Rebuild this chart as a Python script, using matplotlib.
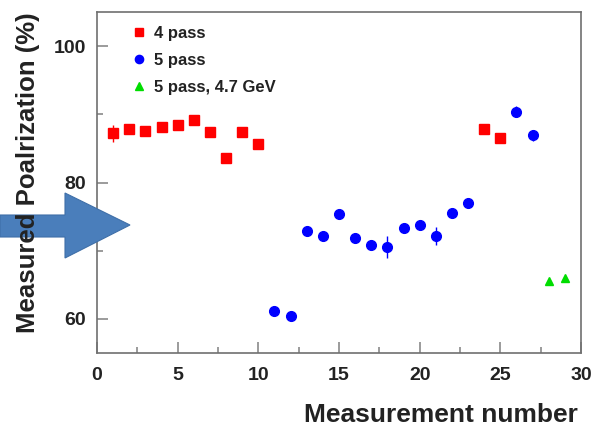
import matplotlib
matplotlib.use("Agg")
import matplotlib.pyplot as plt
from matplotlib.patches import Polygon
import numpy as np

plt.rcParams['font.family'] = ['Liberation Sans', 'DejaVu Sans']

# Data
x4 = [1, 2, 3, 4, 5, 6, 7, 8, 9, 10, 24, 25]
y4 = [87.2, 87.9, 87.6, 88.2, 88.5, 89.1, 87.4, 83.6, 87.4, 85.7, 87.8, 86.5]
e4 = [1.2, 0.6, 0.5, 0.5, 0.5, 0.5, 0.5, 0.5, 0.5, 0.5, 0.5, 0.5]

x5 = [11, 12, 13, 14, 15, 16, 17, 18, 19, 20, 21, 22, 23, 26, 27]
y5 = [61.1, 60.4, 72.9, 72.2, 75.4, 71.8, 70.8, 70.6, 73.4, 73.8, 72.2, 75.5, 77.0, 90.4, 86.9]
e5 = [0.5, 0.5, 0.5, 0.5, 0.5, 0.5, 0.5, 1.6, 0.5, 0.5, 1.3, 0.5, 0.5, 0.8, 0.8]

x47 = [28, 29]
y47 = [65.6, 66.0]
e47 = [0.3, 0.3]

labels = ["4 pass", "5 pass", "5 pass, 4.7 GeV"]

W, H = 593, 433
fig = plt.figure(figsize=(W / 100, H / 100), dpi=100)
ax = fig.add_axes([97 / W, 1 - 353 / H, (581 - 97) / W, (353 - 12) / H])

c1 = ax.errorbar(x4, y4, yerr=e4, fmt='s', color='#ff0000', ms=7, elinewidth=1, capsize=0)
c2 = ax.errorbar(x5, y5, yerr=e5, fmt='o', color='#0000ff', ms=7, elinewidth=1, capsize=0)
c3 = ax.errorbar(x47, y47, yerr=e47, fmt='^', color='#00dd00', ms=6, elinewidth=1, capsize=0)

ax.set_xlim(0, 30)
ax.set_ylim(55, 105)
ax.set_xticks([0, 5, 10, 15, 20, 25, 30])
ax.set_xticks(np.arange(0, 30.1, 2.5), minor=True)
ax.set_yticks([60, 80, 100])
ax.set_yticks([60, 70, 80, 90, 100], minor=True)

for s in ax.spines.values():
    s.set_color('#707070')
    s.set_linewidth(1.2)
ax.tick_params(which='both', direction='in', color='#808080', width=1.1)
ax.tick_params(which='major', length=8)
ax.tick_params(which='minor', length=4)
ax.tick_params(axis='x', which='major', labelsize=14, pad=10, labelcolor='#222222')
ax.tick_params(axis='y', which='major', labelsize=14, pad=8, labelcolor='#222222')
for t in ax.get_xticklabels() + ax.get_yticklabels():
    t.set_fontweight('bold')

leg = ax.legend([c1[0], c2[0], c3[0]], labels, loc='upper left',
                bbox_to_anchor=(0.07, 0.96), frameon=False,
                fontsize=12, handlelength=1.0, handletextpad=0.4, labelspacing=0.72,
                borderpad=0, borderaxespad=0, markerscale=0.85)
for t in leg.get_texts():
    t.set_fontweight('bold')
    t.set_color('#222222')

fig.text(578 / W, 1 - 415 / H, "Measurement number", ha='right', va='center',
         fontsize=19, fontweight='bold', color='#222222')
fig.text(28 / W, 1 - 173 / H, "Measured Poalrization (%)", rotation=90, ha='center',
         va='center', fontsize=18.5, fontweight='bold', color='#222222')

# Decorative arrow overlay (figure pixel coordinates)
arrow = Polygon([[0, 215], [65, 215], [65, 193], [130, 225], [65, 258], [65, 237], [0, 237]],
                closed=True, facecolor='#4a7ebb', edgecolor='#3f6fa8', linewidth=0.8,
                transform=None)
pts = arrow.get_xy()
pts[:, 1] = H - pts[:, 1]
arrow.set_xy(pts)
fig.patches.append(arrow)

fig.savefig("out.png", dpi=100)
